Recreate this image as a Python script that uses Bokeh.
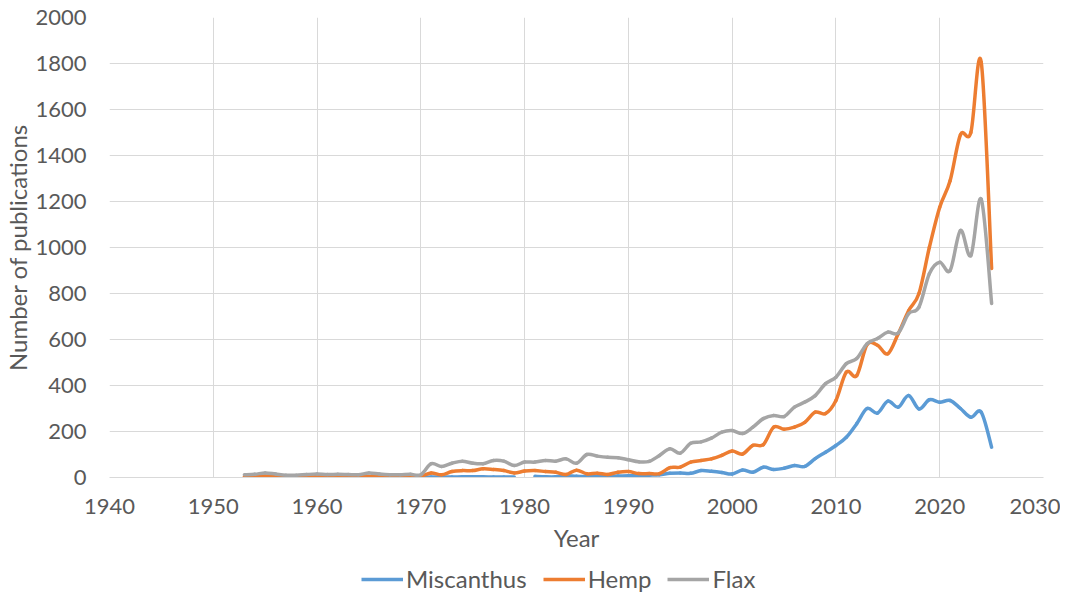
import math
from bokeh.plotting import figure
from bokeh.layouts import column
from bokeh.models import Legend, LegendItem, FixedTicker, Range1d, ColumnDataSource
from bokeh.embed import file_html
from bokeh.resources import INLINE

NaN = float("nan")

years = list(range(1953, 2026))

miscanthus = [NaN] * 17 + [
    1, 2, 2, 2, 3, 3, 3, 2, 2, 2,            # 1970-1979
    NaN, 5, 3, 3, 8, 5, 5, 5, 5, 6,          # 1980-1989
    8, 8, 10, 12, 18, 20, 18, 30, 27, 22,     # 1990-1999
    15, 33, 23, 45, 35, 40, 52, 48, 82, 110,  # 2000-2009
    139, 175, 234, 300, 280, 332, 306, 357, 298, 338,  # 2010-2019
    327, 335, 300, 262, 284, 132,             # 2020-2025
]

hemp = [
    4, 5, 6, 4, 2, 3, 4,                      # 1953-1959
    5, 5, 6, 5, 4, 3, 6, 10, 7, 5,            # 1960-1969
    6, 20, 12, 26, 30, 30, 38, 35, 30, 20,    # 1970-1979
    28, 30, 26, 23, 13, 32, 16, 19, 13, 23,   # 1980-1989
    26, 17, 17, 17, 43, 45, 67, 74, 81, 96,   # 1990-1999
    115, 102, 140, 143, 219, 210, 219, 240, 284, 278,  # 2000-2009
    335, 458, 443, 578, 575, 538, 625, 725, 800, 1000,  # 2010-2019
    1175, 1290, 1490, 1500, 1805, 909,        # 2020-2025
]

flax = [
    12, 14, 20, 15, 10, 10, 13,               # 1953-1959
    15, 13, 14, 13, 12, 20, 15, 12, 12, 14,   # 1960-1969
    12, 60, 48, 62, 71, 62, 60, 74, 71, 52,   # 1970-1979
    67, 67, 74, 71, 81, 62, 100, 93, 88, 86,  # 1980-1989
    77, 68, 70, 96, 125, 106, 149, 155, 171, 197,  # 1990-1999
    204, 191, 219, 256, 270, 265, 306, 328, 356, 408,  # 2000-2009
    436, 495, 517, 582, 604, 632, 628, 712, 741, 886,  # 2010-2019
    936, 900, 1074, 965, 1210, 757,           # 2020-2025
]

series_names = ["Miscanthus", "Hemp", "Flax"]
series_values = [miscanthus, hemp, flax]
colors = ["#5B9BD5", "#ED7D31", "#A5A5A5"]

x_ticks = list(range(1940, 2031, 10))
y_ticks = list(range(0, 2001, 200))

FONT = "Lato"
TXT = "#595959"
LW = 3.5


def smooth_segments(xs, ys):
    """Bezier segments between consecutive valid points (Excel-style smoothed line)."""
    n = len(xs)
    ok = [not math.isnan(v) for v in ys]
    d = {k: [] for k in ("x0", "y0", "x1", "y1", "cx0", "cy0", "cx1", "cy1")}
    for i in range(n - 1):
        if not (ok[i] and ok[i + 1]):
            continue
        px, py = (xs[i - 1], ys[i - 1]) if i > 0 and ok[i - 1] else (xs[i], ys[i])
        nx, ny = (xs[i + 2], ys[i + 2]) if i + 2 < n and ok[i + 2] else (xs[i + 1], ys[i + 1])
        d["x0"].append(xs[i]); d["y0"].append(ys[i])
        d["x1"].append(xs[i + 1]); d["y1"].append(ys[i + 1])
        d["cx0"].append(xs[i] + (xs[i + 1] - px) / 6.0)
        d["cy0"].append(ys[i] + (ys[i + 1] - py) / 6.0)
        d["cx1"].append(xs[i + 1] - (nx - xs[i]) / 6.0)
        d["cy1"].append(ys[i + 1] - (ny - ys[i]) / 6.0)
    return ColumnDataSource(d)


p = figure(width=1060, height=557, output_backend="svg", toolbar_location=None,
           x_range=Range1d(1940, 2030), y_range=Range1d(0, 2000),
           min_border_left=105, min_border_right=17, min_border_top=17, min_border_bottom=80)
p.outline_line_color = None

for name, vals, col in zip(series_names, series_values, colors):
    src = smooth_segments(years, vals)
    p.bezier(x0="x0", y0="y0", x1="x1", y1="y1", cx0="cx0", cy0="cy0", cx1="cx1", cy1="cy1",
             source=src, line_color=col, line_width=LW, line_cap="round")

p.xaxis.ticker = FixedTicker(ticks=x_ticks)
p.yaxis.ticker = FixedTicker(ticks=y_ticks)
p.xgrid.ticker = FixedTicker(ticks=x_ticks)
p.ygrid.ticker = FixedTicker(ticks=y_ticks)
p.grid.grid_line_color = "#D9D9D9"
p.grid.grid_line_width = 1

for ax in (p.xaxis, p.yaxis):
    ax.major_tick_line_color = None
    ax.minor_tick_line_color = None
    ax.major_label_text_font = FONT
    ax.major_label_text_font_size = "22px"
    ax.major_label_text_color = TXT
    ax.axis_label_text_font = FONT
    ax.axis_label_text_font_size = "24px"
    ax.axis_label_text_font_style = "normal"
    ax.axis_label_text_color = TXT

p.xaxis.axis_line_color = "#D9D9D9"
p.yaxis.axis_line_color = None
p.xaxis.axis_label = "Year"
p.yaxis.axis_label = "Number of publications"
p.xaxis.major_label_standoff = 15
p.xaxis.axis_label_standoff = 6
p.yaxis.major_label_standoff = 17
p.yaxis.axis_label_standoff = 0

# legend strip below the chart
lg = figure(width=1060, height=36, output_backend="svg", toolbar_location=None,
            x_range=Range1d(0, 1), y_range=Range1d(0, 1),
            min_border_left=0, min_border_right=0, min_border_top=0, min_border_bottom=0)
lg.axis.visible = False
lg.grid.visible = False
lg.outline_line_color = None
items = []
for name, col in zip(series_names, colors):
    r = lg.line(x=[-5, -4], y=[-5, -5], line_color=col, line_width=LW)
    items.append(LegendItem(label=name, renderers=[r]))

legend = Legend(items=items, orientation="horizontal", location=(252, 0))
legend.label_text_font = FONT
legend.label_text_font_size = "24px"
legend.label_text_color = TXT
legend.glyph_width = 42
legend.label_standoff = 3
legend.spacing = 16
legend.padding = 0
legend.margin = 0
legend.border_line_color = None
legend.background_fill_alpha = 0
lg.add_layout(legend, "center")

layout = column(p, lg, spacing=0)
open("out.html", "w").write(file_html(layout, INLINE))
